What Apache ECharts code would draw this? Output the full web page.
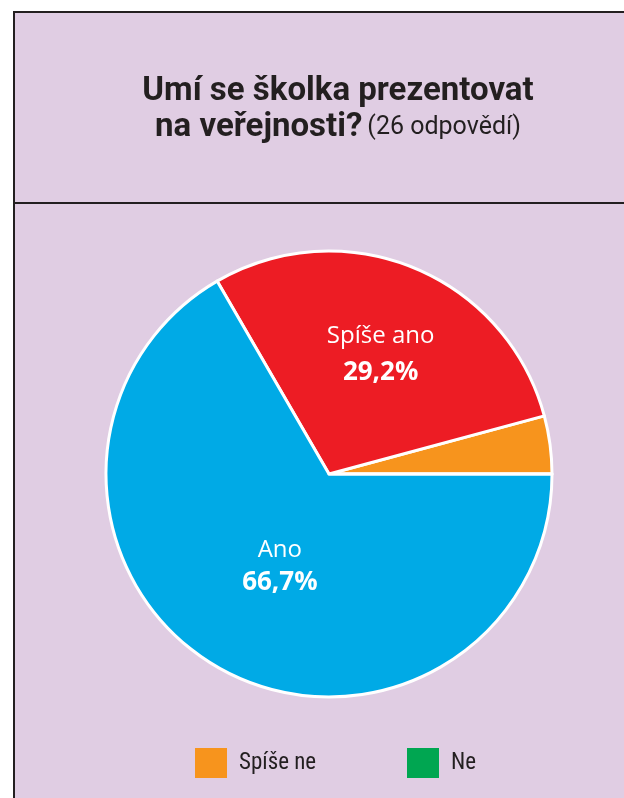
<!DOCTYPE html>
<html>
<head>
<meta charset="utf-8">
<script src="https://cdn.jsdelivr.net/npm/echarts@6/dist/echarts.min.js"></script>
<style>
  html, body { margin: 0; padding: 0; background: #ffffff; }
  #chart { width: 624px; height: 798px; }
</style>
</head>
<body>
<div id="chart"></div>
<script>
"use strict";

// data
var categories = ["Spíše ne", "Spíše ano", "Ano", "Ne"];
var values = [4.2, 29.2, 66.7, 0];
var colors = ["#f7941d", "#ed1c24", "#00aae6", "#00a651"];
var legendItems = ["Spíše ne", "Ne"];
var labelled = ["Spíše ano", "Ano"];

function fmt(v) {
    return v.toFixed(1).replace(".", ",") + "%";
}

function chart() {
    var labelOffsets = {
        "Spíše ano": [8, -14],
        "Ano": [8, -7]
    };
    var labelLineHeight = {
        "Spíše ano": 36,
        "Ano": 32
    };
    var data = categories.map(function (name, i) {
        var show = labelled.indexOf(name) >= 0;
        var lh = labelLineHeight[name] || 36;
        return {
            name: name,
            value: values[i],
            itemStyle: { color: colors[i] },
            label: {
                show: show,
                offset: labelOffsets[name] || [0, 0],
                rich: {
                    n: { fontFamily: "Open Sans", fontSize: 24, color: "#ffffff", lineHeight: lh },
                    v: { fontFamily: "Open Sans", fontWeight: "bold", fontSize: 26, color: "#ffffff", lineHeight: lh }
                }
            }
        };
    });

    var legendText = {
        fontFamily: "'Roboto Condensed', 'DejaVu Sans Condensed', Roboto, sans-serif",
        fontSize: 23,
        color: "#231f20",
        padding: [0, 0, 0, 7]
    };
    var legendLeft = [190, 402];

    var e = {
        backgroundColor: "#ffffff",
        animation: false,
        graphic: [{
            type: "rect",
            shape: { x: 14, y: 12, width: 620, height: 800 },
            style: { fill: "#e0cde3", stroke: "#231f20", lineWidth: 2 },
            z: -10
        }, {
            type: "line",
            shape: { x1: 14, y1: 203, x2: 624, y2: 203 },
            style: { stroke: "#231f20", lineWidth: 2 },
            z: -9
        }],
        title: {
            left: 333,
            top: 69,
            textAlign: "center",
            text: "{b|Umí se školka prezentovat}\n{b|na veřejnosti?} {n|(26 odpovědí)}",
            textStyle: {
                rich: {
                    b: {
                        fontFamily: "Roboto",
                        fontWeight: "bold",
                        fontSize: 33,
                        color: "#231f20",
                        lineHeight: 36
                    },
                    n: {
                        fontFamily: "Roboto",
                        fontWeight: "normal",
                        fontSize: 25,
                        color: "#231f20",
                        lineHeight: 36
                    }
                }
            }
        },
        legend: legendItems.map(function (name, i) {
            return {
                data: [name],
                left: legendLeft[i],
                top: 743,
                itemWidth: 32,
                itemHeight: 30,
                icon: "rect",
                selectedMode: false,
                itemStyle: { borderWidth: 0 },
                textStyle: legendText
            };
        }),
        series: [{
            type: "pie",
            center: [329, 474],
            radius: 223,
            startAngle: 0,
            clockwise: false,
            stillShowZeroSum: true,
            itemStyle: {
                borderColor: "#ffffff",
                borderWidth: 3
            },
            label: {
                position: "inside",
                formatter: function (p) {
                    return "{n|" + p.name + "}\n{v|" + fmt(p.value) + "}";
                }
            },
            labelLine: { show: false },
            emphasis: { disabled: true },
            data: data
        }]
    };
    echarts.init(document.getElementById("chart")).setOption(e);
}

chart();
</script>
</body>
</html>
